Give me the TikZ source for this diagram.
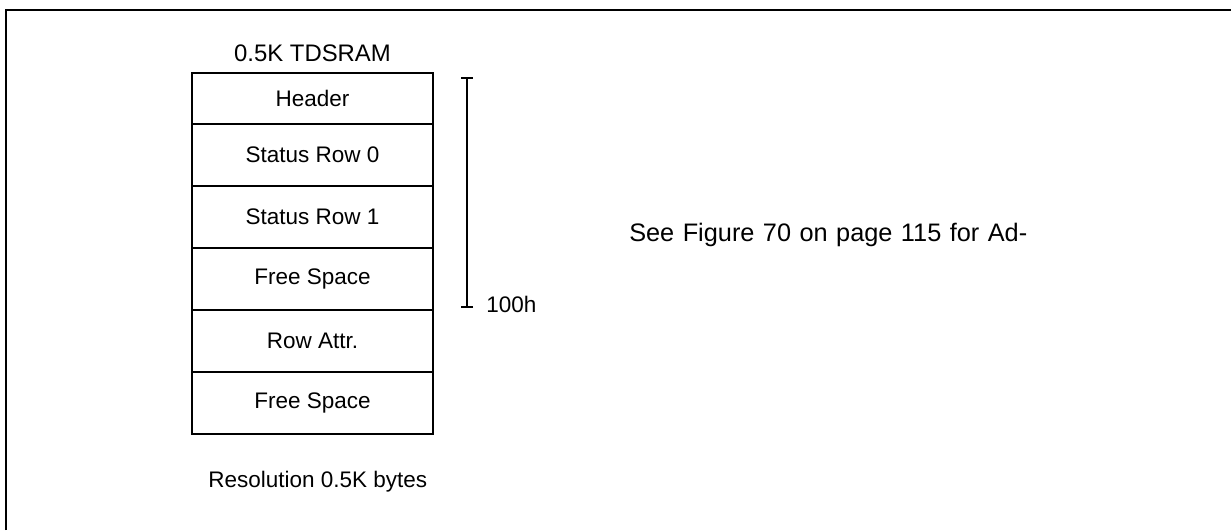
\documentclass[tikz,border=0pt]{standalone}
\usepackage{fontspec}
\setmainfont{Liberation Sans}
\usetikzlibrary{positioning,arrows.meta}

\tikzset{
    cell/.style={draw, line width=1.4pt, minimum width=6.025cm, minimum height=1.55cm,
        outer sep=0pt, inner sep=0pt, font=\fontsize{16}{19}\selectfont},
    lbl/.style={inner sep=0pt, font=\fontsize{16}{19}\selectfont}
}

\begin{document}
\begin{tikzpicture}
    \useasboundingbox (0,0) rectangle (30.775,13.25);

    % Frame
    \draw[line width=1.4pt] (0.15,0) -- (0.15,13.0) -- (30.775,13.0);

    % Memory map
    \node[cell, minimum height=1.2825cm] (hdr) at (7.8125,10.79) {Header};
    \node[cell, below=0pt of hdr] (stat0) {Status Row 0};
    \node[cell, below=0pt of stat0] (stat1) {Status Row 1};
    \node[cell, below=0pt of stat1] (free0) {Free Space};
    \node[cell, below=0pt of free0] (attr) {Row Attr.};
    \node[cell, below=0pt of attr] (free1) {Free Space};
    \node[lbl, font=\fontsize{17}{20}\selectfont, anchor=base] (title) at ([yshift=0.27cm]hdr.north) {0.5K TDSRAM};

    % Size bracket
    \coordinate (ytop) at (11.675,11.325);
    \coordinate (ybot) at (11.675,5.5575);
    \draw[line width=1.4pt, {Bar[width=0.3cm]}-{Bar[width=0.3cm]}] (ytop) -- (ybot);
    \node[lbl, anchor=west] (size) at ([xshift=0.475cm,yshift=0.09cm]ybot) {100h};

    % Notes
    \node[lbl, font=\fontsize{18}{21}\selectfont, anchor=base west] (note) at (15.725,7.2075)
        {\makebox[9.95cm][s]{See Figure 70 on page 115 for Ad-}};
    \node[lbl, anchor=base west] (res) at (5.2,1.0675) {Resolution 0.5K bytes};
\end{tikzpicture}
\end{document}
